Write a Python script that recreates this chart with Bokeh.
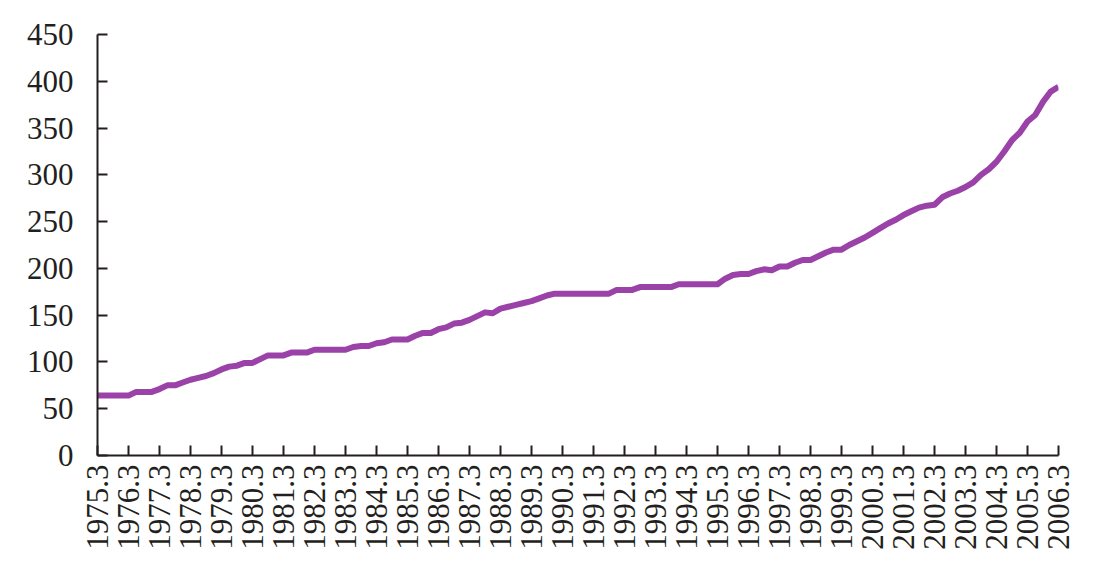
import math
from bokeh.plotting import figure
from bokeh.models import Range1d, FixedTicker
from bokeh.embed import file_html
from bokeh.resources import INLINE

# Quarterly index values, 1975.3 .. 2006.3 (125 quarters)
years = list(range(1975, 2007))
tick_labels = [f"{y}.3" for y in years]

values = [
    64, 64, 64, 64,        # 1975.3-1976.2
    64, 68, 68, 68,        # 1976.3-
    71, 75, 75, 78,        # 1977.3-
    81, 83, 85, 88,        # 1978.3-
    92, 95, 96, 99,        # 1979.3-
    99, 103, 107, 107,     # 1980.3-
    107, 110, 110, 110,    # 1981.3-
    113, 113, 113, 113,    # 1982.3-
    113, 116, 117, 117,    # 1983.3-
    120, 121, 124, 124,    # 1984.3-
    124, 128, 131, 131,    # 1985.3-
    135, 137, 141, 142,    # 1986.3-
    145, 149, 153, 152,    # 1987.3-
    157, 159, 161, 163,    # 1988.3-
    165, 168, 171, 173,    # 1989.3-
    173, 173, 173, 173,    # 1990.3-
    173, 173, 173, 177,    # 1991.3-
    177, 177, 180, 180,    # 1992.3-
    180, 180, 180, 183,    # 1993.3-
    183, 183, 183, 183,    # 1994.3-
    183, 189, 193, 194,    # 1995.3-
    194, 197, 199, 198,    # 1996.3-
    202, 202, 206, 209,    # 1997.3-
    209, 213, 217, 220,    # 1998.3-
    220, 225, 229, 233,    # 1999.3-
    238, 243, 248, 252,    # 2000.3-
    257, 261, 265, 267,    # 2001.3-
    268, 276, 280, 283,    # 2002.3-
    287, 292, 300, 306,    # 2003.3-
    314, 325, 337, 345,    # 2004.3-
    357, 364, 378, 389,    # 2005.3-
    394,                   # 2006.3
]
quarters = list(range(len(values)))

p = figure(width=1093, height=578, output_backend="svg", toolbar_location=None,
           x_range=Range1d(0, len(values) - 1), y_range=Range1d(0, 450),
           min_border_left=97, min_border_right=35, min_border_top=34,
           min_border_bottom=123)
p.outline_line_color = None
p.xgrid.visible = False
p.ygrid.visible = False
p.background_fill_color = "white"

p.line(quarters, values, line_color="#9b42a8", line_width=6, line_join="round")

font = "Liberation Serif"
axis_color = "#231f20"

p.yaxis.ticker = FixedTicker(ticks=list(range(0, 451, 50)))
p.yaxis.minor_tick_line_color = None
p.yaxis.major_tick_in = 10
p.yaxis.major_tick_out = 0
p.yaxis.major_label_standoff = 24
p.yaxis.axis_line_color = axis_color
p.yaxis.axis_line_width = 2
p.yaxis.major_tick_line_color = axis_color
p.yaxis.major_tick_line_width = 2
p.yaxis.major_label_text_font = font
p.yaxis.major_label_text_font_size = "31px"
p.yaxis.major_label_text_color = axis_color

xt = list(range(0, len(values), 4))
p.xaxis.ticker = FixedTicker(ticks=xt)
p.xaxis.major_label_overrides = {t: lab for t, lab in zip(xt, tick_labels)}
p.xaxis.minor_tick_line_color = None
p.xaxis.major_tick_in = 10
p.xaxis.major_tick_out = 0
p.xaxis.major_label_standoff = 9
p.xaxis.major_label_orientation = math.pi / 2
p.xaxis.axis_line_color = axis_color
p.xaxis.axis_line_width = 2
p.xaxis.major_tick_line_color = axis_color
p.xaxis.major_tick_line_width = 2
p.xaxis.major_label_text_font = font
p.xaxis.major_label_text_font_size = "31px"
p.xaxis.major_label_text_color = axis_color

open("out.html", "w").write(file_html(p, INLINE))
